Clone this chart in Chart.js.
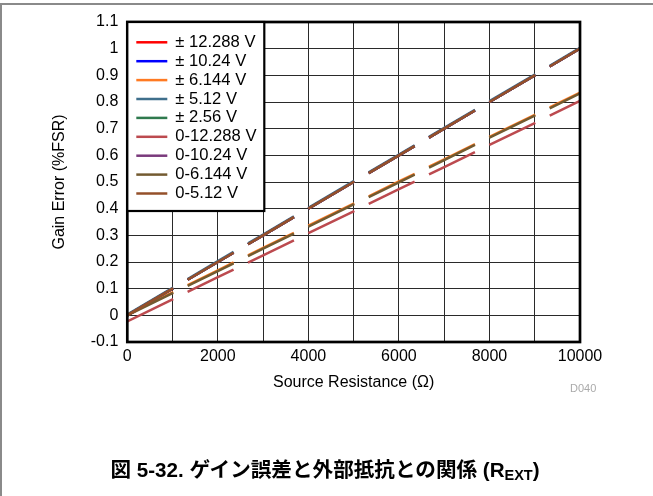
<!DOCTYPE html>
<html>
<head>
<meta charset="utf-8">
<script src="https://cdn.jsdelivr.net/npm/chart.js@4.4.0/dist/chart.umd.min.js"></script>
<style>
  body { margin: 0; background: #fff; }
  #wrap { position: relative; width: 653px; height: 496px; overflow: hidden; }
  #wrap canvas { position: absolute; left: 0; top: 0; }
  .frameTop { position: absolute; left: 0; top: 3px; width: 653px; height: 2px; background: #8a8a8a; }
  .frameLeft { position: absolute; left: 0; top: 3px; width: 2px; height: 493px; background: #8a8a8a; }
  #code { position: absolute; left: 570px; top: 382px; font: 11px "Liberation Sans", Arial, sans-serif; color: #aaa; }
  #caption { position: absolute; left: 0; width: 650px; top: 453px; text-align: center;
    font: bold 20.6px "Liberation Sans", "Noto Sans CJK JP", sans-serif; color: #000; }
  #caption sub { font-size: 14.5px; vertical-align: -3px; }
</style>
</head>
<body>
<div id="wrap">
  <canvas id="gainChart" width="653" height="496"></canvas>
  <div class="frameTop"></div>
  <div class="frameLeft"></div>
  <div id="code">D040</div>
  <div id="caption">図 5-32. ゲイン誤差と外部抵抗との関係 (R<sub>EXT</sub>)</div>
</div>
<script>
// source resistance in ohms
const resistance = [0, 1000, 2000, 3000, 4000, 5000, 6000, 7000, 8000, 9000, 10000]

// gain error (%FSR) per input range
const bip12288 = [0.000, 0.100, 0.200, 0.300, 0.400, 0.500, 0.600, 0.700, 0.800, 0.900, 1.000]
const bip1024  = [0.000, 0.100, 0.200, 0.300, 0.400, 0.500, 0.600, 0.700, 0.800, 0.900, 1.000]
const bip6144  = [0.003, 0.086, 0.169, 0.253, 0.336, 0.419, 0.502, 0.585, 0.669, 0.752, 0.835]
const bip512   = [0.003, 0.103, 0.203, 0.303, 0.403, 0.503, 0.603, 0.703, 0.803, 0.903, 1.003]
const bip256   = [0.000, 0.100, 0.200, 0.300, 0.400, 0.500, 0.600, 0.700, 0.800, 0.900, 1.000]
const uni12288 = [-0.023, 0.060, 0.143, 0.225, 0.308, 0.390, 0.473, 0.556, 0.639, 0.721, 0.804]
const uni1024  = [0.000, 0.100, 0.200, 0.300, 0.400, 0.500, 0.600, 0.700, 0.800, 0.900, 1.000]
const uni6144  = [0.000, 0.083, 0.166, 0.250, 0.333, 0.416, 0.499, 0.582, 0.666, 0.749, 0.832]
const uni512   = [0.000, 0.100, 0.200, 0.300, 0.400, 0.500, 0.600, 0.700, 0.800, 0.900, 1.000]

const seriesLabels = ['\u00b1 12.288 V', '\u00b1 10.24 V', '\u00b1 6.144 V', '\u00b1 5.12 V', '\u00b1 2.56 V',
  '0-12.288 V', '0-10.24 V', '0-6.144 V', '0-5.12 V']
const seriesValues = [bip12288, bip1024, bip6144, bip512, bip256, uni12288, uni1024, uni6144, uni512]
const seriesColors = ['#ff0000', '#0000ff', '#ff7a22', '#3f6f8c', '#2f7a4e',
  '#bc4a4f', '#7a3a7c', '#735a30', '#94502a']

const yTicksMin = -0.1
const yTicksMax = 1.1

// dash pattern measured in ohms along x so every series breaks at the same place
const dashOn = 1015
const dashOff = 318

function dashFor(ctx) {
  const xs = ctx.chart.scales.x, ys = ctx.chart.scales.y
  if (!xs || !ys) return []
  const d = ctx.dataset.data
  const a = d[0], b = d[d.length - 1]
  const dx = xs.getPixelForValue(b.x) - xs.getPixelForValue(a.x)
  const dy = ys.getPixelForValue(b.y) - ys.getPixelForValue(a.y)
  const k = Math.hypot(dx, dy) / (b.x - a.x)
  return [dashOn * k, dashOff * k]
}

const datasets = seriesLabels.map((label, i) => ({
  label: label,
  data: resistance.map((r, j) => ({x: r, y: seriesValues[i][j]})),
  borderColor: seriesColors[i],
  backgroundColor: seriesColors[i],
  borderWidth: 2.5,
  borderDash: dashFor,
  borderCapStyle: 'butt',
  pointRadius: 0,
  fill: false,
  tension: 0,
  order: seriesLabels.length - 1 - i
}))

const font = {family: '"Liberation Sans", Arial, sans-serif', size: 16}

// thick frame around the plot, then the boxed legend in its upper left corner
const framePlugin = {
  id: 'frameAndLegend',
  afterDatasetsDraw(chart) {
    const {ctx, chartArea: a} = chart
    ctx.save()
    ctx.strokeStyle = '#000'
    ctx.lineWidth = 2.7
    ctx.strokeRect(a.left, a.top, a.right - a.left, a.bottom - a.top)

    const bx = a.left, by = a.top, bw = 137, bh = 189
    ctx.fillStyle = '#fff'
    ctx.fillRect(bx, by, bw, bh)
    ctx.lineWidth = 2.2
    ctx.strokeRect(bx, by, bw, bh)

    ctx.font = '16.6px "Liberation Sans", Arial, sans-serif'
    ctx.textBaseline = 'middle'
    ctx.textAlign = 'left'
    chart.data.datasets.forEach((ds, i) => {
      const y = by + 20.3 + i * 18.9
      ctx.strokeStyle = ds.borderColor
      ctx.lineWidth = 2.5
      ctx.beginPath()
      ctx.moveTo(bx + 9, y)
      ctx.lineTo(bx + 40, y)
      ctx.stroke()
      ctx.fillStyle = '#000'
      ctx.fillText(ds.label, bx + 48, y)
    })
    ctx.restore()
  }
}

new Chart(document.getElementById('gainChart'), {
  type: 'line',
  data: {datasets: datasets},
  plugins: [framePlugin],
  options: {
    responsive: false,
    animation: false,
    layout: {padding: {left: 0, top: 22, right: 73, bottom: 102}},
    plugins: {legend: {display: false}, tooltip: {enabled: false}},
    scales: {
      x: {
        type: 'linear',
        min: 0,
        max: 10000,
        afterFit: s => { s.height = 52 },
        border: {display: false},
        grid: {color: '#2a2a2a', lineWidth: 1, drawTicks: false},
        ticks: {
          stepSize: 1000,
          autoSkip: false,
          maxRotation: 0,
          padding: 5,
          color: '#000',
          font: font,
          callback: v => (v % 2000 === 0 ? String(v) : '')
        },
        title: {display: true, text: 'Source Resistance (\u03a9)', color: '#000', font: font,
          padding: {top: 0, bottom: 2}}
      },
      y: {
        type: 'linear',
        min: yTicksMin,
        max: yTicksMax,
        afterFit: s => { s.width = 127.3 },
        border: {display: false},
        grid: {color: '#2a2a2a', lineWidth: 1, drawTicks: false},
        ticks: {
          stepSize: 0.1,
          padding: 9,
          color: '#000',
          font: font,
          callback: v => String(+v.toFixed(1))
        },
        title: {display: true, text: 'Gain Error (%FSR)', color: '#000', font: font,
          padding: {top: 50, bottom: 0}}
      }
    }
  }
})
</script>
</body>
</html>
